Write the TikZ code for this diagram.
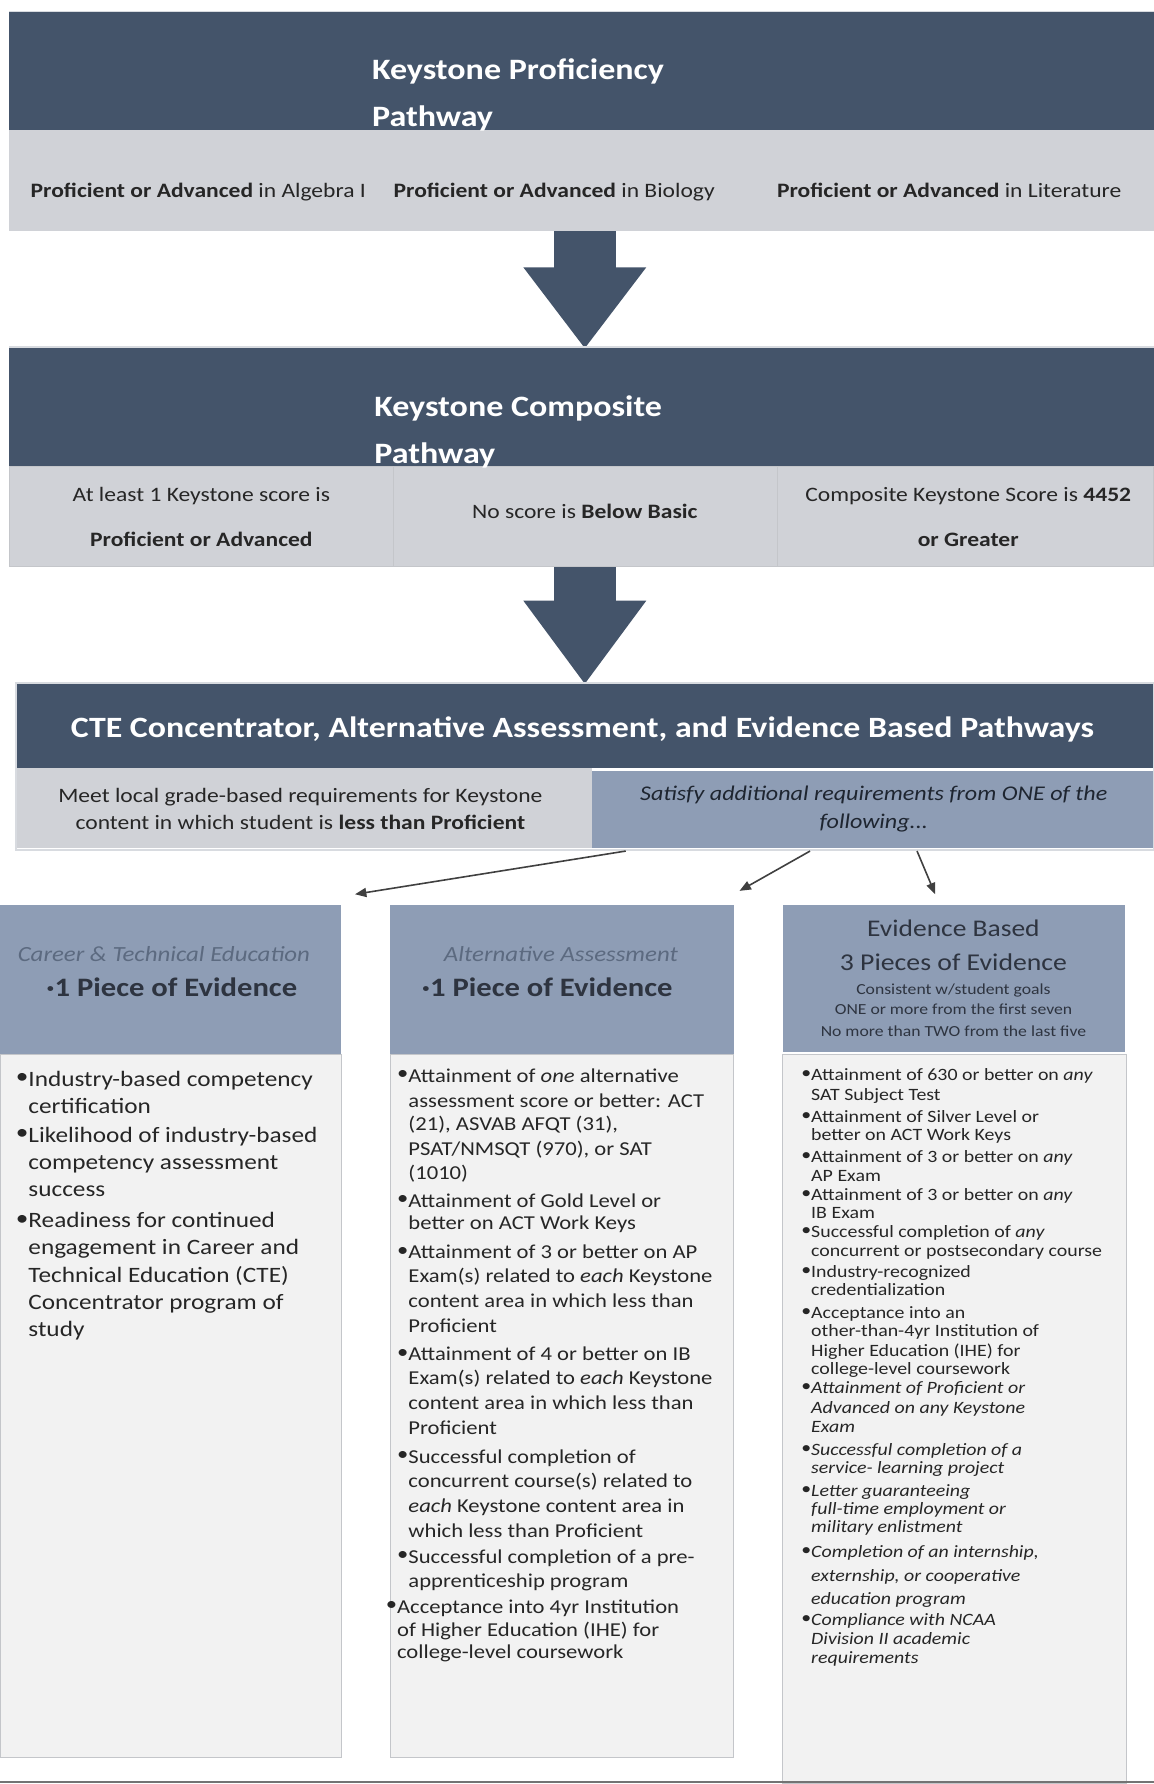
\documentclass[tikz,border=0pt]{standalone}
\usepackage{fontspec}
\setmainfont{Carlito}[FakeStretch=1.15]
\usetikzlibrary{arrows.meta}
\definecolor{navy}{HTML}{44546A}
\definecolor{band}{HTML}{D0D2D7}
\definecolor{bluegray}{HTML}{8E9DB5}
\definecolor{bodyfill}{HTML}{F2F2F2}
\definecolor{bodyline}{HTML}{C4C6CA}
\definecolor{txtdark}{HTML}{262626}
\definecolor{headit}{HTML}{5C6A80}
\definecolor{headbold}{HTML}{2E3440}
\definecolor{satcol}{HTML}{1E2530}
\definecolor{edge}{HTML}{D8DBE0}
\newcommand{\myfs}[2]{\fontsize{#1}{#2}\selectfont}
\newcommand{\bul}{\llap{\raisebox{0.12em}{•}}}
\begin{document}
\begin{tikzpicture}[x=1pt,y=-1pt,
  rect/.style={anchor=north west, inner sep=0, outer sep=0, draw=none},
  tline/.style={inner sep=0, outer sep=0},
  ttl/.style={tline, anchor=base west, text=white, font=\myfs{26}{30}\bfseries},
  bandtxt/.style={tline, text=txtdark, font=\myfs{18}{22}},
  bodyA/.style={tline, anchor=base west, text=txtdark, font=\myfs{19.3}{22}},
  bodyB/.style={tline, anchor=base west, text=txtdark, font=\myfs{17.3}{20}},
  bodyC/.style={tline, anchor=base west, text=txtdark, font=\myfs{15.2}{17}},
  conn/.style={draw=black!75, line width=1.4pt, -{Triangle[length=10pt,width=8pt]}},
  blockarrow/.style={fill=navy}
]
\useasboundingbox (0,0) rectangle (1014,1568);
\fill[white] (0,0) rectangle (1014,1568);

% ---- Keystone Proficiency Pathway
\node[rect, fill=navy, minimum width=1006pt, minimum height=104pt] (kp) at (8,10) {};
\draw[edge, line width=1pt] (8,10) -- (1014,10);
\node[rect, fill=band, minimum width=1006pt, minimum height=89pt] (kpband) at (8,114) {};
\node[ttl] (kpt1) at (327,70) {Keystone Proficiency};
\node[ttl] (kpt2) at (327,111) {Pathway};
\node[bandtxt, anchor=base west] (kpa) at (27,174) {\textbf{Proficient or Advanced} in Algebra I};
\node[bandtxt, anchor=base west] (kpb) at (346,174) {\textbf{Proficient or Advanced} in Biology};
\node[bandtxt, anchor=base west] (kpc) at (683,174) {\textbf{Proficient or Advanced} in Literature};

% ---- block arrow 1
\fill[blockarrow] (487,203) rectangle (541,236);
\fill[blockarrow] (460,235) -- (568,235) -- (514,306) -- cycle;

% ---- Keystone Composite Pathway
\node[rect, fill=navy, minimum width=1006pt, minimum height=105pt] (kc) at (8,305) {};
\draw[edge, line width=1pt] (8,305) -- (1014,305);
\node[rect, fill=band, draw=bodyline, line width=0.6pt, minimum width=338pt, minimum height=88pt] (kc1) at (8,410) {};
\node[rect, fill=band, draw=bodyline, line width=0.6pt, minimum width=337pt, minimum height=88pt] (kc2) at (346,410) {};
\node[rect, fill=band, draw=bodyline, line width=0.6pt, minimum width=331pt, minimum height=88pt] (kc3) at (683,410) {};
\node[ttl] (kct1) at (329,366) {Keystone Composite};
\node[ttl] (kct2) at (329,407) {Pathway};
\node[bandtxt, anchor=base] (kca1) at (177,441) {At least 1 Keystone score is};
\node[bandtxt, anchor=base] (kca2) at (177,480) {\textbf{Proficient or Advanced}};
\node[bandtxt, anchor=base] (kcb) at (514,456) {No score is \textbf{Below Basic}};
\node[bandtxt, anchor=base] (kcc1) at (851,441) {Composite Keystone Score is \textbf{4452}};
\node[bandtxt, anchor=base] (kcc2) at (851,480) {\textbf{or Greater}};

% ---- block arrow 2
\fill[blockarrow] (487,498) rectangle (541,529);
\fill[blockarrow] (460,528) -- (568,528) -- (514,601) -- cycle;

% ---- CTE box
\node[rect, fill=navy, minimum width=1000pt, minimum height=75pt] (cte) at (14,600) {};
\node[rect, fill=band, minimum width=506pt, minimum height=70pt] (meet) at (14,675) {};
\node[rect, fill=bluegray, minimum width=494pt, minimum height=67pt] (sat) at (520,678) {};
\draw[edge, line width=1.5pt] (14,600) rectangle (1014,747);
\node[tline, anchor=base, text=white, font=\myfs{25.9}{30}\bfseries] (ctet) at (512,648) {CTE Concentrator, Alternative Assessment, and Evidence Based Pathways};
\node[bandtxt, anchor=base] (meet1) at (264,705) {Meet local grade-based requirements for Keystone};
\node[bandtxt, anchor=base] (meet2) at (264,729) {content in which student is \textbf{less than Proficient}};
\node[bandtxt, anchor=base, text=satcol, font=\myfs{18.4}{22}\itshape] (sat1) at (768,704) {Satisfy additional requirements from ONE of the};
\node[bandtxt, anchor=base, text=satcol, font=\myfs{18.4}{22}\itshape] (sat2) at (768,728) {following...};

% ---- connectors
\coordinate (s1) at (550,748);
\coordinate (e1) at (312,786);
\coordinate (s2) at (712,748);
\coordinate (e2) at (650,783);
\coordinate (s3) at (806,748);
\coordinate (e3) at (822,786);
\draw[conn] (s1) -- (e1);
\draw[conn] (s2) -- (e2);
\draw[conn] (s3) -- (e3);

% ---- column headers
\node[rect, fill=bluegray, minimum width=300pt, minimum height=132pt] (h1) at (0,795) {};
\node[rect, fill=bluegray, minimum width=302pt, minimum height=132pt] (h2) at (343,795) {};
\node[rect, fill=bluegray, minimum width=301pt, minimum height=130pt] (h3) at (688,795) {};
\node[tline, anchor=base, text=headit, font=\myfs{19}{22}\itshape] (h1a) at (144,845) {Career \& Technical Education};
\node[tline, anchor=base, text=headbold, font=\myfs{23.4}{26}\bfseries] (h1b) at (151,876) {·1 Piece of Evidence};
\node[tline, anchor=base, text=headit, font=\myfs{19}{22}\itshape] (h2a) at (493,845) {Alternative Assessment};
\node[tline, anchor=base, text=headbold, font=\myfs{23.4}{26}\bfseries] (h2b) at (481,876) {·1 Piece of Evidence};
\node[tline, anchor=base, text=headbold, font=\myfs{21}{24}] (h3a) at (838,823) {Evidence Based};
\node[tline, anchor=base, text=headbold, font=\myfs{21.2}{24}] (h3b) at (838,853) {3 Pieces of Evidence};
\node[tline, anchor=base, text=headbold, font=\myfs{13.5}{16}] (h3c) at (838,874) {Consistent w/student goals};
\node[tline, anchor=base, text=headbold, font=\myfs{13.5}{16}] (h3d) at (838,892) {ONE or more from the first seven};
\node[tline, anchor=base, text=headbold, font=\myfs{13.5}{16}] (h3e) at (838,911) {No more than TWO from the last five};

% ---- column bodies
\node[rect, fill=bodyfill, draw=bodyline, line width=1pt, minimum width=300pt, minimum height=618pt] (b1) at (0,927) {};
\node[rect, fill=bodyfill, draw=bodyline, line width=1pt, minimum width=302pt, minimum height=618pt] (b2) at (343,927) {};
\node[rect, fill=bodyfill, draw=bodyline, line width=1pt, minimum width=302pt, minimum height=641pt] (b3) at (688,927) {};
\draw[black!55, line width=1.5pt] (0,1566) -- (1014,1566);

% column 1 text
\foreach \yy/\mytext [count=\i] in {
 955/{\bul Industry-based competency},
 979/{certification},
 1004/{\bul Likelihood of industry-based},
 1028/{competency assessment},
 1052/{success},
 1079/{\bul Readiness for continued},
 1103/{engagement in Career and},
 1127/{Technical Education (CTE)},
 1151/{Concentrator program of},
 1175/{study}}
 \node[bodyA] (ca\i) at (25,\yy) {\mytext};

% column 2 text
\foreach \yy/\mytext [count=\i] in {
 951/{\bul Attainment of \textit{one} alternative},
 973/{assessment score or better: ACT},
 994/{(21), ASVAB AFQT (31),},
 1016/{PSAT/NMSQT (970), or SAT},
 1037/{(1010)},
 1061/{\bul Attainment of Gold Level or},
 1081/{better on ACT Work Keys},
 1106/{\bul Attainment of 3 or better on AP},
 1127/{Exam(s) related to \textit{each} Keystone},
 1149/{content area in which less than},
 1171/{Proficient},
 1196/{\bul Attainment of 4 or better on IB},
 1217/{Exam(s) related to \textit{each} Keystone},
 1239/{content area in which less than},
 1261/{Proficient},
 1286/{\bul Successful completion of},
 1307/{concurrent course(s) related to},
 1329/{\textit{each} Keystone content area in},
 1351/{which less than Proficient},
 1374/{\bul Successful completion of a pre-},
 1395/{apprenticeship program}}
 \node[bodyB] (cb\i) at (359,\yy) {\mytext};
\foreach \yy/\mytext [count=\i] in {
 1418/{\bul Acceptance into 4yr Institution},
 1438/{of Higher Education (IHE) for},
 1458/{college-level coursework}}
 \node[bodyB] (cbx\i) at (349,\yy) {\mytext};

% column 3 text
\foreach \yy/\mytext [count=\i] in {
 950/{\bul Attainment of 630 or better on \textit{any}},
 967/{SAT Subject Test},
 987/{\bul Attainment of Silver Level or},
 1002/{better on ACT Work Keys},
 1022/{\bul Attainment of 3 or better on \textit{any}},
 1038/{AP Exam},
 1055/{\bul Attainment of 3 or better on \textit{any}},
 1071/{IB Exam},
 1088/{\bul Successful completion of \textit{any}},
 1104/{concurrent or postsecondary course},
 1123/{\bul Industry-recognized},
 1139/{credentialization},
 1159/{\bul Acceptance into an},
 1175/{other-than-4yr Institution of},
 1192/{Higher Education (IHE) for},
 1208/{college-level coursework},
 1225/{\bul\textit{Attainment of Proficient or}},
 1242/{\textit{Advanced on any Keystone}},
 1259/{\textit{Exam}},
 1279/{\bul\textit{Successful completion of a}},
 1295/{\textit{service- learning project}},
 1315/{\bul\textit{Letter guaranteeing}},
 1331/{\textit{full-time employment or}},
 1347/{\textit{military enlistment}},
 1369/{\bul\textit{Completion of an internship,}},
 1390/{\textit{externship, or cooperative}},
 1410/{\textit{education program}},
 1429/{\bul\textit{Compliance with NCAA}},
 1445/{\textit{Division II academic}},
 1462/{\textit{requirements}}}
 \node[bodyC] (cc\i) at (713,\yy) {\mytext};
\end{tikzpicture}
\end{document}
